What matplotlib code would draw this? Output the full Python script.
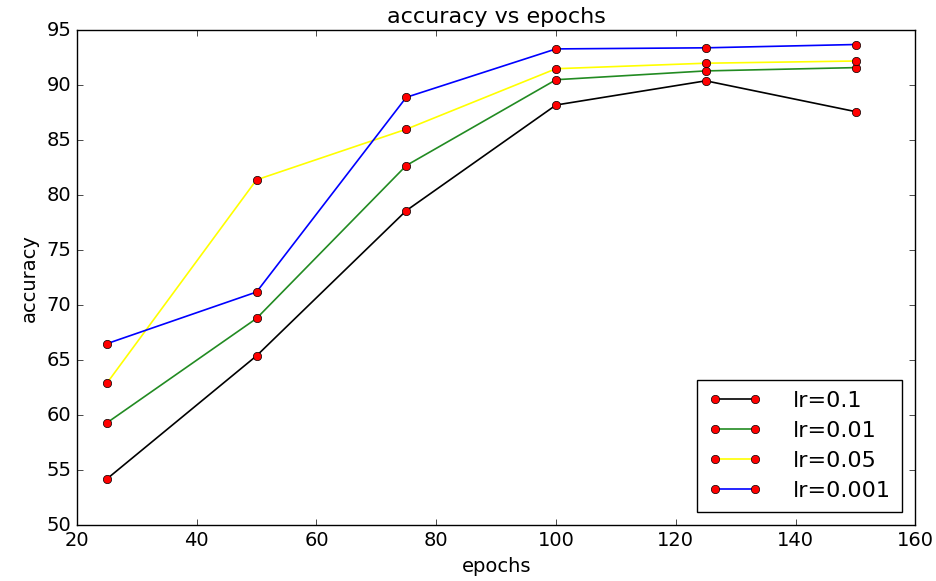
import matplotlib
matplotlib.use('Agg')
import matplotlib.pyplot as plt

# epochs on x, accuracy per learning rate
epochs = [25, 50, 75, 100, 125, 150]
acc_lr_0_1 = [54.2, 65.4, 78.6, 88.2, 90.4, 87.6]
acc_lr_0_01 = [59.3, 68.8, 82.7, 90.5, 91.3, 91.6]
acc_lr_0_05 = [62.9, 81.4, 86.0, 91.5, 92.0, 92.2]
acc_lr_0_001 = [66.5, 71.2, 88.9, 93.3, 93.4, 93.7]

plt.style.use('classic')
fig = plt.figure(figsize=(9.37, 5.81), dpi=100)
ax = fig.add_axes([0.082, 0.096, 0.895, 0.852])

ax.plot(epochs, acc_lr_0_1, color='black', marker='o', mfc='red', lw=1.2, label='lr=0.1')
ax.plot(epochs, acc_lr_0_01, color='#228b22', marker='o', mfc='red', lw=1.2, label='lr=0.01')
ax.plot(epochs, acc_lr_0_05, color='yellow', marker='o', mfc='red', lw=1.2, label='lr=0.05')
ax.plot(epochs, acc_lr_0_001, color='blue', marker='o', mfc='red', lw=1.2, label='lr=0.001')

ax.set_xlim(20, 160)
ax.set_ylim(50, 95)
ax.tick_params(labelsize=14)
ax.set_title('accuracy vs epochs', fontsize=16)
ax.set_xlabel('epochs', fontsize=14)
ax.set_ylabel('accuracy', fontsize=14)
ax.legend(loc='lower right', numpoints=2, fontsize=16, handlelength=2.4,
          handletextpad=1.4, borderpad=0.5, labelspacing=0.45,
          borderaxespad=0.6)

fig.savefig('out.png', dpi=100)
